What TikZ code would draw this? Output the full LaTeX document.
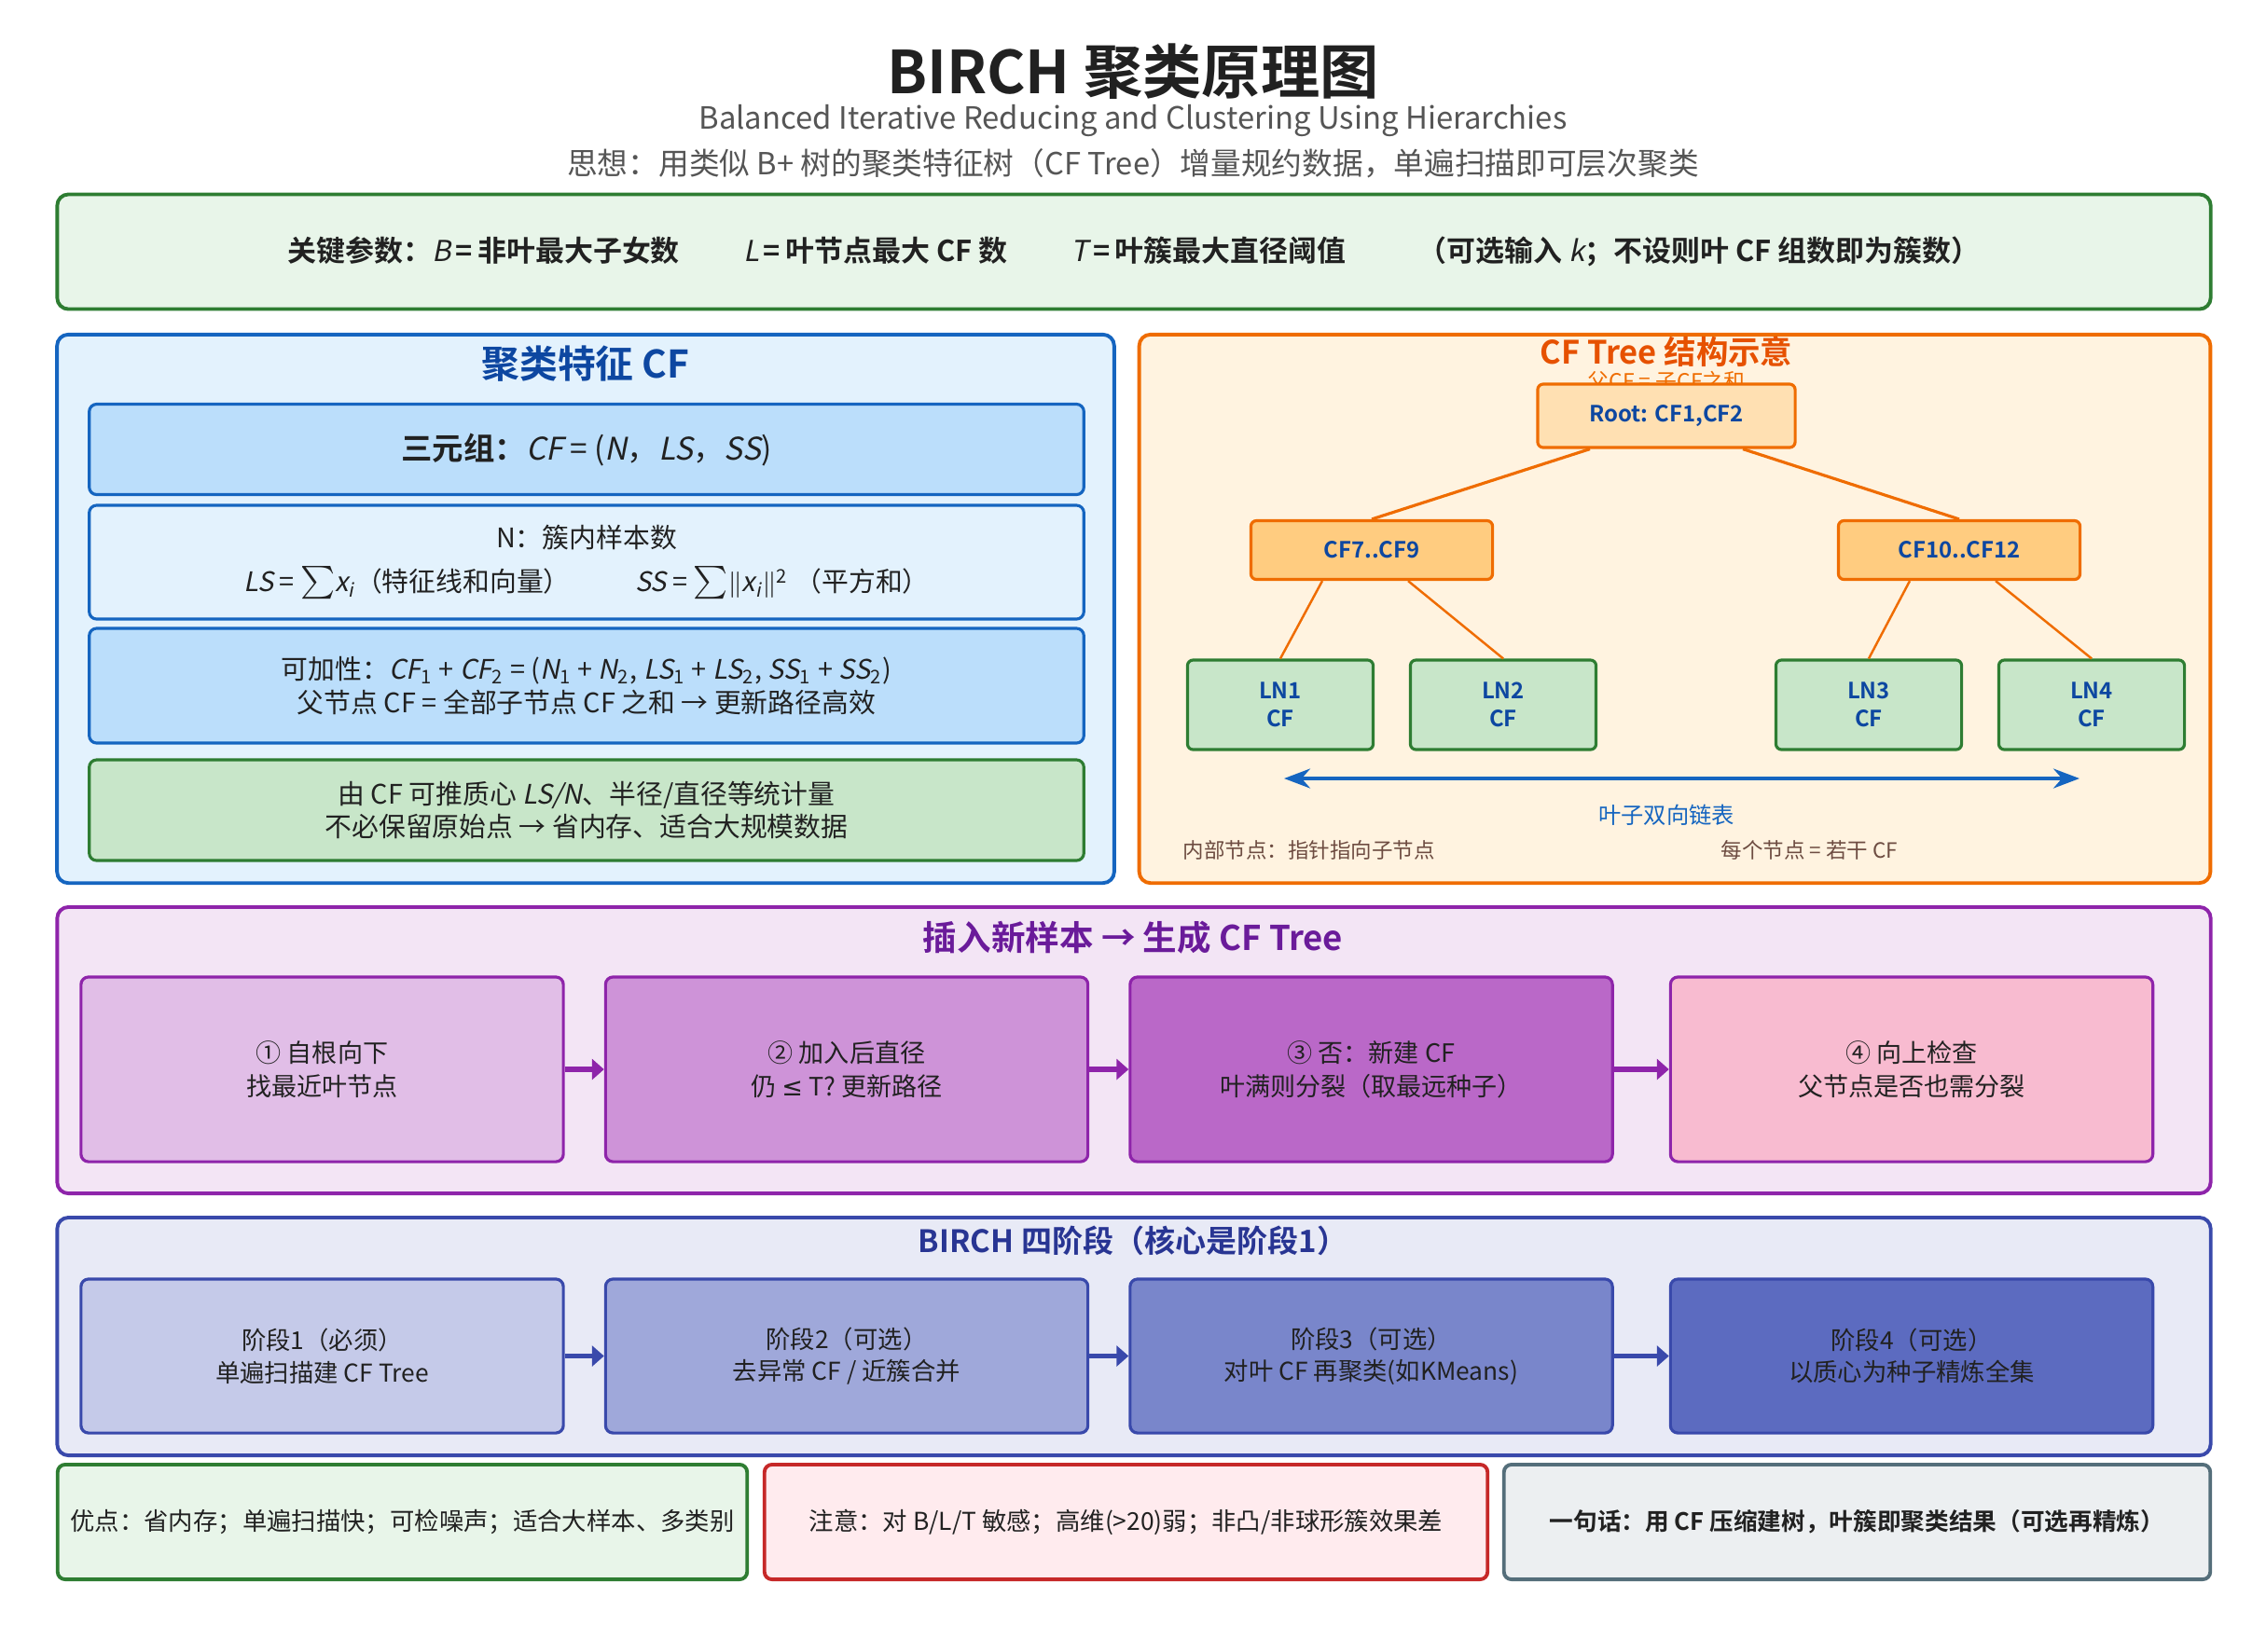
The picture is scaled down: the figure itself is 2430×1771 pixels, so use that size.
\documentclass[tikz,border=0pt]{standalone}
\usepackage{fontspec}
\setmainfont{Noto Sans CJK SC}[BoldFont={Noto Sans CJK SC Bold}, ItalicFont={Noto Sans CJK SC}, ItalicFeatures={FakeSlant=0.2}, BoldItalicFont={Noto Sans CJK SC Bold}, BoldItalicFeatures={FakeSlant=0.2}]
\newfontfamily\symf{DejaVu Sans}
\usetikzlibrary{arrows.meta}

\definecolor{ink}{HTML}{212121}
\definecolor{greyt}{HTML}{555555}
\definecolor{grnfill}{HTML}{E8F5E9}
\definecolor{grnline}{HTML}{2E7D32}
\definecolor{leafgrn}{HTML}{C8E6C9}
\definecolor{bluefill}{HTML}{E3F2FD}
\definecolor{blueline}{HTML}{1565C0}
\definecolor{bluemid}{HTML}{BBDEFB}
\definecolor{bluedark}{HTML}{0D47A1}
\definecolor{orfill}{HTML}{FFF3E0}
\definecolor{orline}{HTML}{EF6C00}
\definecolor{ortitle}{HTML}{E65100}
\definecolor{orroot}{HTML}{FFE0B2}
\definecolor{ornode}{HTML}{FFCC80}
\definecolor{brownt}{HTML}{6D4C41}
\definecolor{purfill}{HTML}{F3E5F5}
\definecolor{purline}{HTML}{8E24AA}
\definecolor{purtitle}{HTML}{6A1B9A}
\definecolor{purA}{HTML}{E1BEE7}
\definecolor{purB}{HTML}{CE93D8}
\definecolor{purC}{HTML}{BA68C8}
\definecolor{pinkD}{HTML}{F8BBD0}
\definecolor{indfill}{HTML}{E8EAF6}
\definecolor{indline}{HTML}{3949AB}
\definecolor{indtitle}{HTML}{283593}
\definecolor{indA}{HTML}{C5CAE9}
\definecolor{indB}{HTML}{9FA8DA}
\definecolor{indC}{HTML}{7986CB}
\definecolor{indD}{HTML}{5C6BC0}
\definecolor{redfill}{HTML}{FFEBEE}
\definecolor{redline}{HTML}{C62828}
\definecolor{gryfill}{HTML}{ECEFF1}
\definecolor{gryline}{HTML}{546E7A}

\newcommand\fsz[2]{\fontsize{#1}{#2}\selectfont}
\newcommand\sub[1]{\textsubscript{#1}}
\newcommand\bigsum{{\fsz{10.5}{10.5}$\sum$}}

\begin{document}
\begin{tikzpicture}[x=0.01cm, y=-0.01cm, >=Stealth,
    panel/.style={draw, rounded corners=0.12cm, line width=1.1pt, inner sep=0pt},
    card/.style={draw, rounded corners=0.08cm, line width=0.9pt, inner sep=0pt, align=center, text=ink},
    tnode/.style={draw=orline, rounded corners=0.06cm, line width=0.9pt, inner sep=0pt, align=center, text=bluedark, font=\fsz{6.8}{8.6}\bfseries},
    leaf/.style={tnode, draw=grnline, fill=leafgrn, minimum width=1.99cm, minimum height=0.96cm},
    flow/.style={-{Triangle[length=0.13cm,width=0.22cm]}, line width=1.6pt}]
\useasboundingbox (0,0) rectangle (2430,1771);

% titles
\node[font=\fsz{18}{20}\bfseries, text=ink] (title) at (1215,77) {BIRCH 聚类原理图};
\node[font=\fsz{9.35}{11}, text=greyt] (subttl) at (1215,130) {Balanced Iterative Reducing and Clustering Using Hierarchies};
\node[font=\fsz{9.3}{11}, text=greyt] (idea) at (1215,175) {思想：用类似 B+ 树的聚类特征树（CF Tree）增量规约数据，单遍扫描即可层次聚类};

% parameters
\node[panel, draw=grnline, fill=grnfill, minimum width=23.08cm, minimum height=1.23cm, font=\fsz{8.8}{10}\bfseries, text=ink] (param) at (1216,270)
  {关键参数：{\mdseries\itshape B}\,=\,非叶最大子女数\hspace{2.2em}{\mdseries\itshape L}\,=\,叶节点最大 CF 数\hspace{2.2em}{\mdseries\itshape T}\,=\,叶簇最大直径阈值\hspace{2.5em}（可选输入 {\mdseries\itshape k}；不设则叶 CF 组数即为簇数）};

% CF panel
\node[panel, draw=blueline, fill=bluefill, minimum width=11.33cm, minimum height=5.88cm] (cfpanel) at (628,653) {};
\node[font=\fsz{11.6}{13}\bfseries, text=bluedark] (cfttl) at (628,390) {聚类特征 CF};
\node[card, draw=blueline, fill=bluemid, minimum width=10.66cm, minimum height=0.97cm, font=\fsz{9.5}{11}] (cfa) at (629,482)
  {\textbf{三元组：}\textit{CF} = (\textit{N}，\textit{LS}，\textit{SS})};
\node[card, draw=blueline, fill=bluefill, minimum width=10.66cm, minimum height=1.22cm, font=\fsz{8.2}{10.5}] (cfb) at (629,603)
  {N：簇内样本数\\[3pt]
   \textit{LS} = \bigsum\textit{x}\sub{\textit{i}}（特征线和向量）\hspace{2.4em}\textit{SS} = \bigsum$\|$\textit{x}\sub{\textit{i}}$\|$\textsuperscript{2}\kern2pt（平方和）};
\node[card, draw=blueline, fill=bluemid, minimum width=10.66cm, minimum height=1.23cm, font=\fsz{8.2}{10}] (cfc) at (629,735.5)
  {可加性：\textit{CF}\sub{1} + \textit{CF}\sub{2} = (\textit{N}\sub{1} + \textit{N}\sub{2}, \textit{LS}\sub{1} + \textit{LS}\sub{2}, \textit{SS}\sub{1} + \textit{SS}\sub{2})\\
   父节点 CF = 全部子节点 CF 之和 → 更新路径高效};
\node[card, draw=grnline, fill=leafgrn, minimum width=10.66cm, minimum height=1.08cm, font=\fsz{8.2}{9.8}] (cfd) at (629,869)
  {由 CF 可推质心 \textit{LS/N}、半径/直径等统计量\\不必保留原始点 → 省内存、适合大规模数据};

% CF tree panel
\node[panel, draw=orline, fill=orfill, minimum width=11.48cm, minimum height=5.88cm] (treepanel) at (1796,653) {};
\node[font=\fsz{9.8}{11}\bfseries, text=ortitle] (treettl) at (1787,377) {CF Tree 结构示意};
\node[font=\fsz{6.5}{8}, text=orline] (treesub) at (1787,409) {父CF = 子CF之和};
\node[tnode, fill=orroot, minimum width=2.76cm, minimum height=0.68cm] (root) at (1787,446) {Root: CF1,CF2};
\node[tnode, fill=ornode, minimum width=2.59cm, minimum height=0.63cm] (cfl) at (1471,590) {CF7..CF9};
\node[tnode, fill=ornode, minimum width=2.59cm, minimum height=0.63cm] (cfr) at (2101,590) {CF10..CF12};
\node[leaf] (ln1) at (1373,756) {LN1\\CF};
\node[leaf] (ln2) at (1612,756) {LN2\\CF};
\node[leaf] (ln3) at (2004,756) {LN3\\CF};
\node[leaf] (ln4) at (2243,756) {LN4\\CF};
\draw[orline, line width=0.9pt] ([xshift=-0.82cm]root.south) -- (cfl.north);
\draw[orline, line width=0.9pt] ([xshift=0.82cm]root.south) -- (cfr.north);
\foreach \p/\c/\d in {cfl/ln1/-0.53, cfl/ln2/0.39, cfr/ln3/-0.53, cfr/ln4/0.39}
{
    \draw[orline, line width=0.7pt] ([xshift=\d cm]\p.south) -- (\c.north);
}
\coordinate (lkL) at (1377,835);
\coordinate (lkR) at (2230,835);
\draw[<->, blueline, line width=1.1pt] (lkL) -- (lkR);
\node[font=\fsz{6.9}{8}, text=blueline] (lktxt) at (1787,874) {叶子双向链表};
\node[font=\fsz{6.4}{8}, text=brownt, anchor=west, inner sep=0pt] (note1) at (1268,912) {内部节点：指针指向子节点};
\node[font=\fsz{6.4}{8}, text=brownt, anchor=west, inner sep=0pt] (note2) at (1845,912) {每个节点 = 若干 CF};

% insertion
\node[panel, draw=purline, fill=purfill, minimum width=23.08cm, minimum height=3.07cm] (inspanel) at (1216,1126.5) {};
\node[font=\fsz{10.4}{12}\bfseries, text=purtitle] (insttl) at (1215,1006) {插入新样本 → 生成 CF Tree};
\foreach \n/\x/\f/\t in {s1/345.5/purA/{① 自根向下\\找最近叶节点}, s2/908/purB/{② 加入后直径\\仍 {\symf ≤} T? 更新路径},
    s3/1470.5/purC/{③ 否：新建 CF\\叶满则分裂（取最远种子）}, s4/2050/pinkD/{④ 向上检查\\父节点是否也需分裂}}
{
    \node[card, draw=purline, fill=\f, minimum width=5.17cm, minimum height=1.98cm, font=\fsz{7.7}{10.2}] (\n) at (\x,1147) {\t};
}
\foreach \a/\b in {s1/s2, s2/s3, s3/s4}
    \draw[flow, purline] (\a) -- (\b);

% four phases
\node[panel, draw=indline, fill=indfill, minimum width=23.08cm, minimum height=2.55cm] (phpanel) at (1216,1433.5) {};
\node[font=\fsz{9.4}{11}\bfseries, text=indtitle] (phttl) at (1215,1331) {BIRCH 四阶段（核心是阶段1）};
\foreach \n/\x/\f/\t in {p1/345.5/indA/{阶段1（必须）\\单遍扫描建 CF Tree}, p2/908/indB/{阶段2（可选）\\去异常 CF / 近簇合并},
    p3/1470.5/indC/{阶段3（可选）\\对叶 CF 再聚类(如KMeans)}, p4/2050/indD/{阶段4（可选）\\以质心为种子精炼全集}}
{
    \node[card, draw=indline, fill=\f, minimum width=5.17cm, minimum height=1.65cm, font=\fsz{7.5}{9.8}] (\n) at (\x,1454.5) {\t};
}
\foreach \a/\b in {p1/p2, p2/p3, p3/p4}
    \draw[flow, indline] (\a) -- (\b);

% summary
\node[card, line width=1.1pt, draw=grnline, fill=grnfill, minimum width=7.39cm, minimum height=1.23cm, font=\fsz{7.5}{9}] (pros) at (431.5,1632.5)
  {优点：省内存；单遍扫描快；可检噪声；适合大样本、多类别};
\node[card, line width=1.1pt, draw=redline, fill=redfill, minimum width=7.75cm, minimum height=1.23cm, font=\fsz{7.5}{9}] (cons) at (1207.5,1632.5)
  {注意：对 B/L/T 敏感；高维(>20)弱；非凸/非球形簇效果差};
\node[card, line width=1.1pt, draw=gryline, fill=gryfill, minimum width=7.57cm, minimum height=1.23cm, font=\fsz{7.3}{9}\bfseries] (gist) at (1991.5,1632.5)
  {一句话：用 CF 压缩建树，叶簇即聚类结果（可选再精炼）};

\end{tikzpicture}
\end{document}
